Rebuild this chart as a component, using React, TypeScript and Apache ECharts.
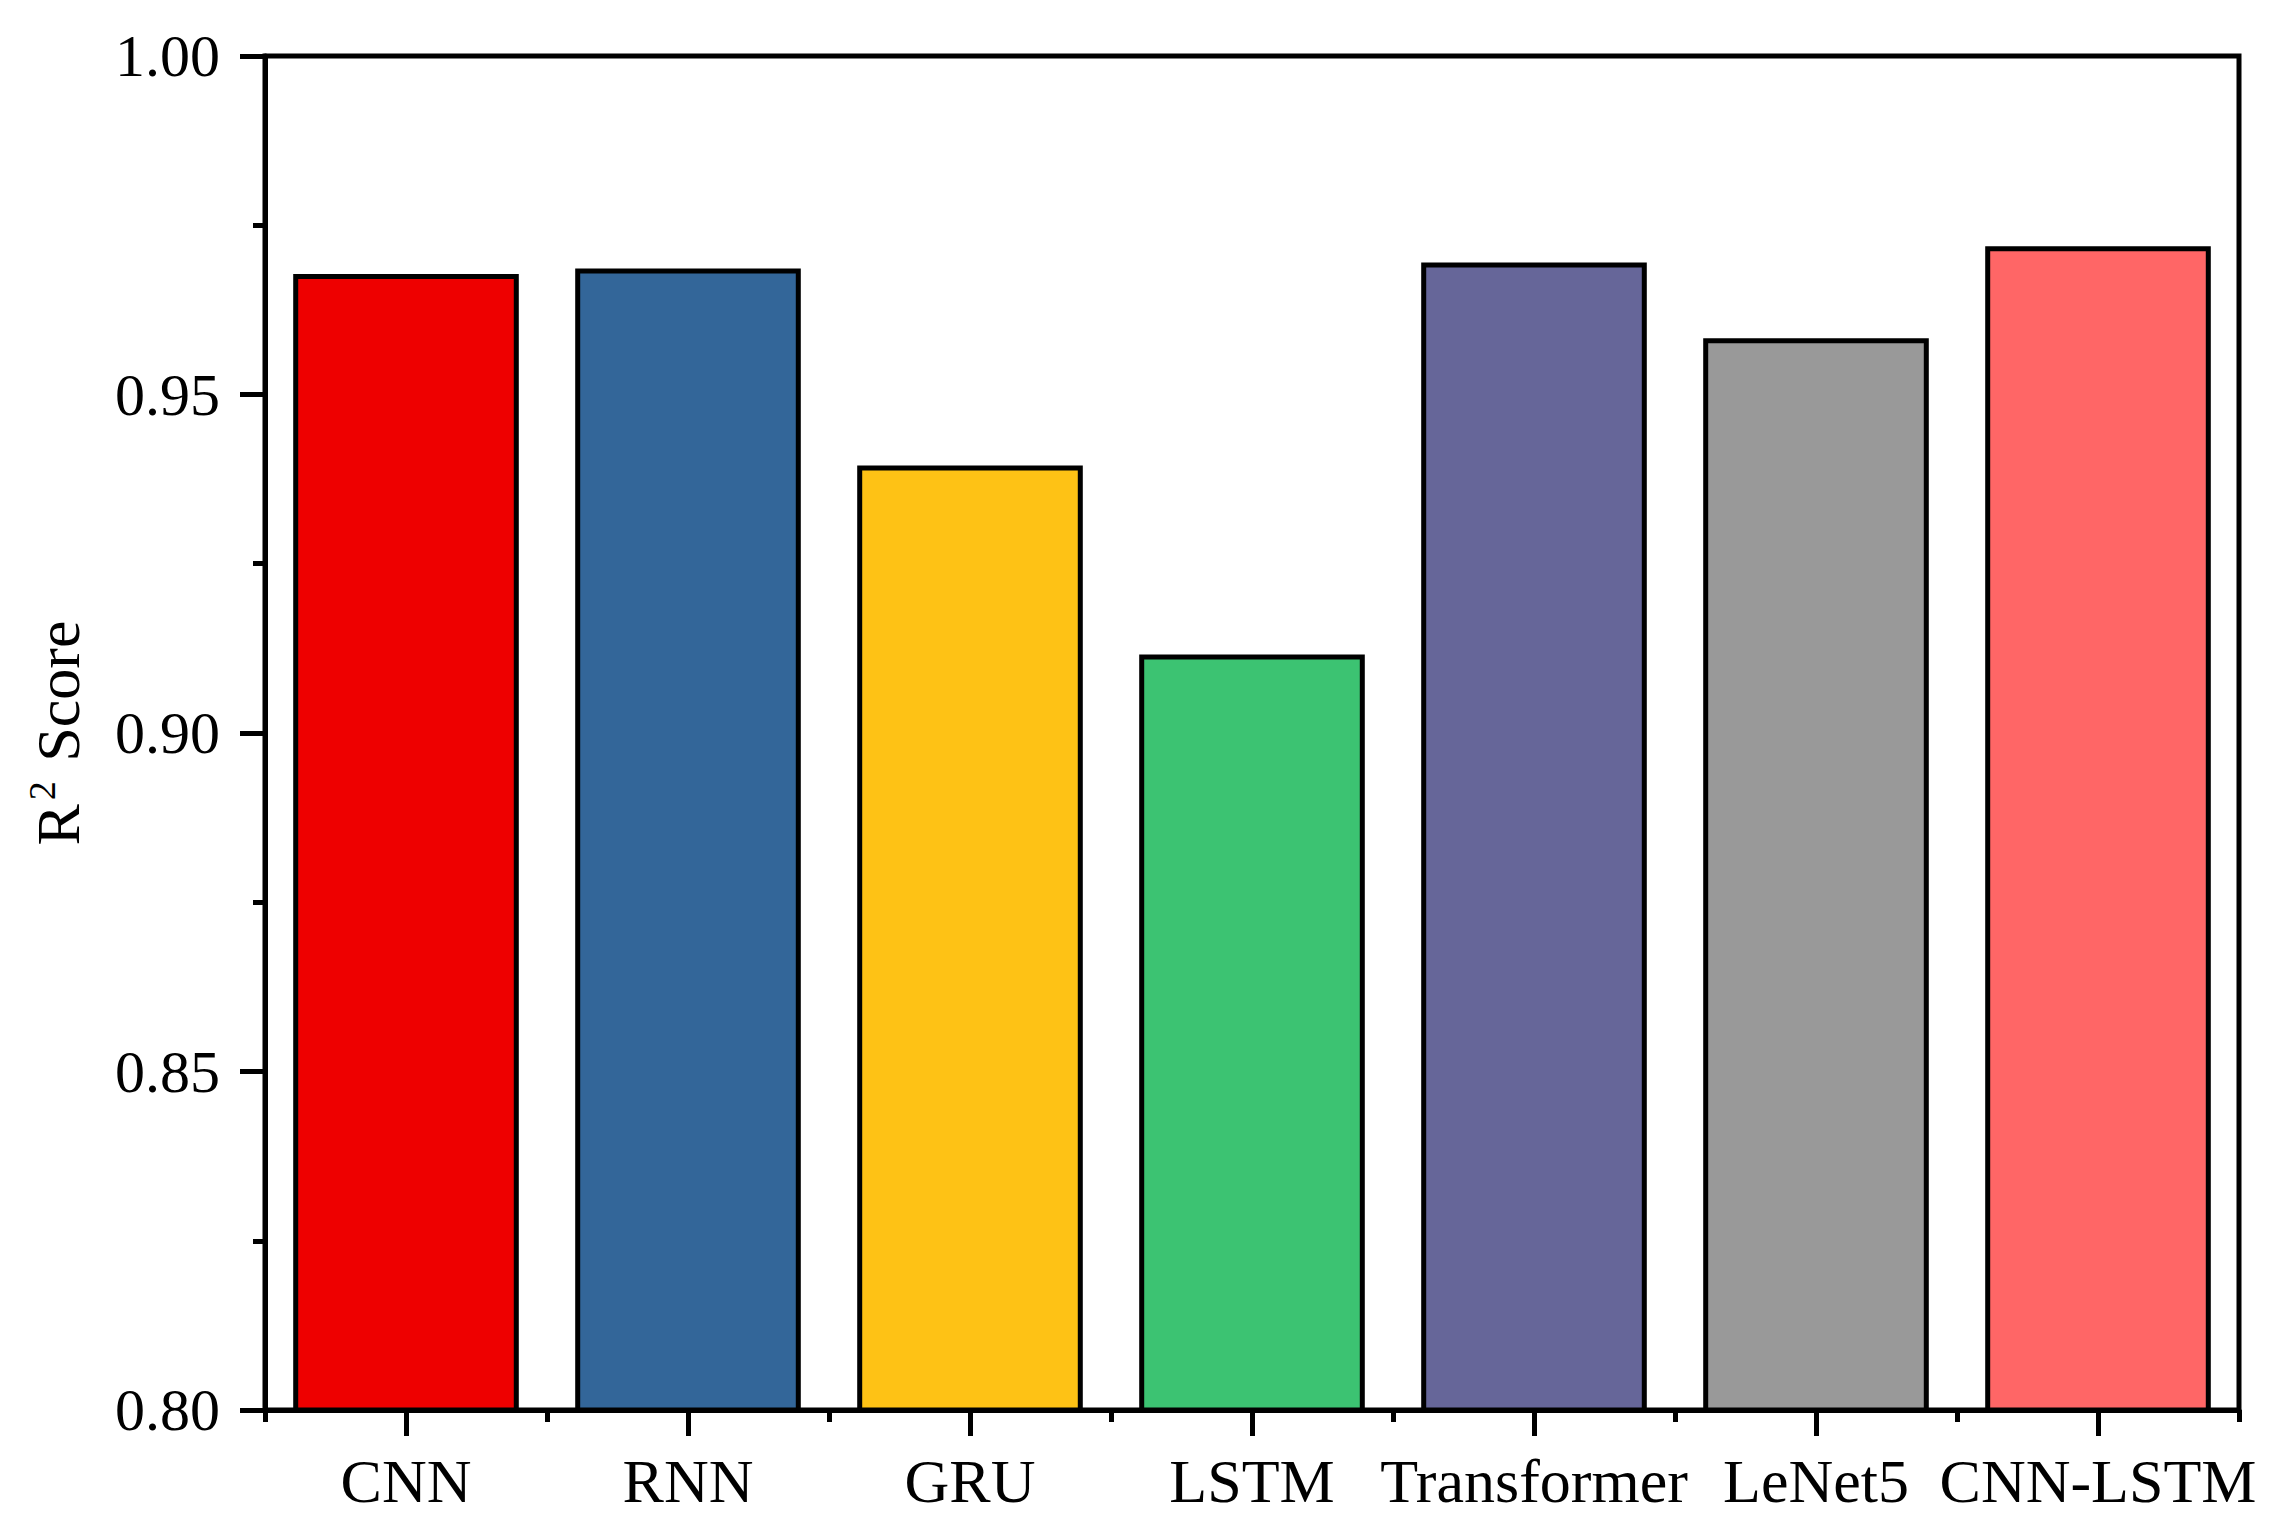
import React, { useEffect, useRef } from "react";
import * as echarts from "echarts";

const categories = ["CNN", "RNN", "GRU", "LSTM", "Transformer", "LeNet5", "CNN-LSTM"];
const r2Scores = [0.9678, 0.9686, 0.9395, 0.9116, 0.9695, 0.9583, 0.9719];
const barColors = ["#EE0000", "#336699", "#FEC215", "#3CC372", "#666699", "#999999", "#FF6666"];
const yTicks = { min: 0.8, max: 1.0, interval: 0.05 };

const FONT = "'Liberation Serif', 'Times New Roman', serif";
const LW = 5;

export default function App() {
  const ref = useRef<HTMLDivElement>(null);
  useEffect(() => {
    if (!ref.current) return;
    const chart = echarts.init(ref.current, undefined, { renderer: "svg" });
    chart.setOption({
      animation: false,
      backgroundColor: "#ffffff",
      grid: {
        left: 265,
        right: 41,
        top: 56,
        bottom: 125,
        show: true,
        borderColor: "#000",
        borderWidth: LW,
        backgroundColor: "transparent",
      },
      xAxis: [
        {
          type: "category",
          data: categories,
          boundaryGap: true,
          axisLine: { show: true, lineStyle: { color: "#000", width: LW } },
          axisTick: { show: true, alignWithLabel: true, inside: false, length: 26, lineStyle: { color: "#000", width: LW } },
          axisLabel: { color: "#000", fontFamily: FONT, fontSize: 62, margin: 40, interval: 0 },
          splitLine: { show: false },
        },
        {
          type: "category",
          data: categories,
          position: "bottom",
          boundaryGap: true,
          axisLine: { show: false },
          axisTick: { show: true, alignWithLabel: false, inside: false, length: 12, lineStyle: { color: "#000", width: LW } },
          axisLabel: { show: false },
          splitLine: { show: false },
        },
      ],
      yAxis: {
        type: "value",
        min: yTicks.min,
        max: yTicks.max,
        interval: yTicks.interval,
        name: "{r|R}{s|2}{r| Score}",
        nameLocation: "middle",
        nameRotate: 90,
        nameGap: 172,
        nameTextStyle: {
          rich: {
            r: { fontFamily: FONT, fontSize: 62, color: "#000", lineHeight: 70 },
            s: { fontFamily: FONT, fontSize: 38, color: "#000", verticalAlign: "top", lineHeight: 70, padding: [0, 4, 0, 4] },
          },
        },
        axisLine: { show: true, lineStyle: { color: "#000", width: LW } },
        axisTick: { show: true, inside: false, length: 25, lineStyle: { color: "#000", width: LW } },
        minorTick: { show: true, splitNumber: 2, length: 12, lineStyle: { color: "#000", width: LW } },
        axisLabel: {
          color: "#000",
          fontFamily: FONT,
          fontSize: 60,
          margin: 45,
          formatter: (v: number) => v.toFixed(2),
        },
        splitLine: { show: false },
      },
      series: [
        {
          type: "bar",
          xAxisIndex: 0,
          data: r2Scores.map((v, i) => ({ value: v, itemStyle: { color: barColors[i] } })),
          barCategoryGap: "20%",
          itemStyle: { borderColor: "#000", borderWidth: LW },
        },
      ],
    });
    return () => chart.dispose();
  }, []);
  return <div ref={ref} style={{ position: "fixed", left: 0, top: 0, width: 2280, height: 1535 }} />;
}
